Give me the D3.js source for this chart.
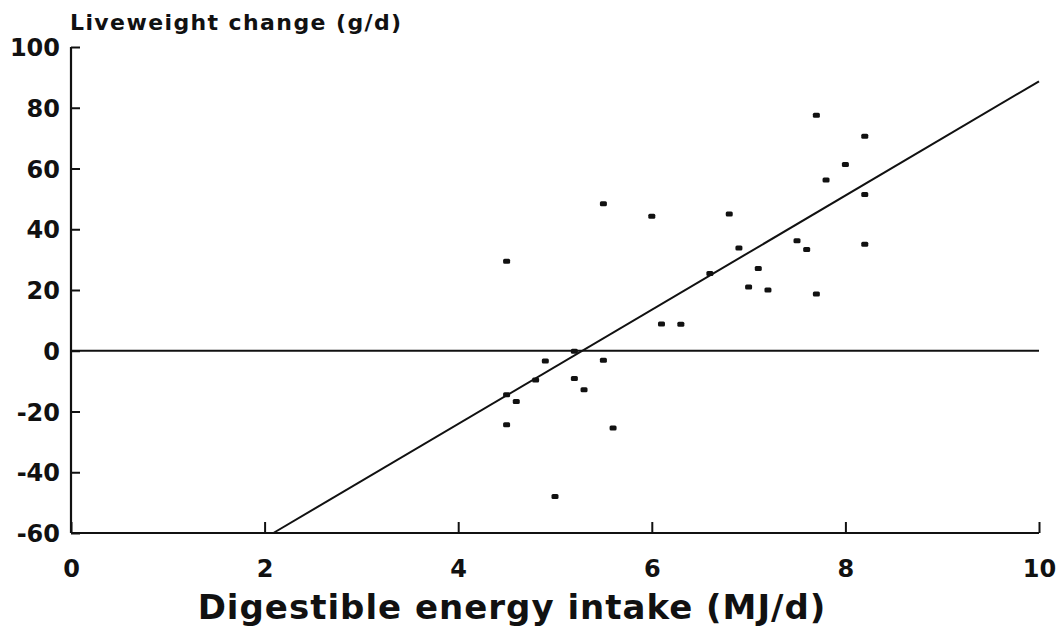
<!DOCTYPE html>
<html>
<head>
<meta charset="utf-8">
<script src="https://cdn.jsdelivr.net/npm/d3@7"></script>
<style>
  html, body { margin: 0; padding: 0; background: #fff; }
  svg { display: block; }
</style>
</head>
<body>
<svg id="chart" width="1059" height="629"></svg>
<script>
// Digestible energy intake (MJ/d) for each animal
const intake = [4.5, 5.5, 6.0, 6.8, 6.9, 6.6, 7.1, 7.0, 7.2, 6.1, 6.3,
                5.2, 4.9, 5.5, 4.8, 5.2, 4.5, 4.6, 5.3, 4.5, 5.6, 5.0,
                7.7, 8.2, 8.0, 7.8, 8.2, 7.5, 7.6, 8.2, 7.7];
// Liveweight change (g/d) for each animal
const gain = [29.5, 48.4, 44.3, 45.0, 33.8, 25.4, 27.1, 21.0, 20.0, 8.8, 8.7,
              -0.2, -3.4, -3.1, -9.6, -9.1, -14.5, -16.7, -12.8, -24.4, -25.4, -48.0,
              77.5, 70.6, 61.3, 56.2, 51.4, 36.2, 33.3, 35.1, 18.7];
// Fitted regression: gain = slope * intake + intercept
const fitSlope = 18.8;
const fitIntercept = -99.3;

const xTicks = [0, 2, 4, 6, 8, 10];
const yTicks = [-60, -40, -20, 0, 20, 40, 60, 80, 100];

const svg = d3.select("#chart");
const x = d3.scaleLinear().domain([0, 10]).range([71, 1039]);
const y = d3.scaleLinear().domain([-60, 100]).range([533, 47]);

const ink = "#111";
const font = "'DejaVu Sans', sans-serif";

// Left axis with inward ticks
const yAxis = svg.append("g").attr("transform", `translate(${x(0)},0)`)
  .call(d3.axisLeft(y).tickValues(yTicks).tickSize(-9).tickPadding(11).tickFormat(d => String(d)));
yAxis.select(".domain").remove();
yAxis.selectAll(".tick line").attr("stroke", ink).attr("stroke-width", 2);
yAxis.selectAll(".tick text")
  .attr("fill", ink)
  .style("font-family", font)
  .style("font-weight", "bold")
  .style("font-size", "24px")
  .attr("dy", "0.36em");
// vertical axis line
svg.append("line")
  .attr("x1", x(0)).attr("x2", x(0))
  .attr("y1", y(100)).attr("y2", y(-60))
  .attr("stroke", ink).attr("stroke-width", 2.2);

// Bottom axis with inward ticks
const xAxis = svg.append("g").attr("transform", `translate(0,${y(-60)})`)
  .call(d3.axisBottom(x).tickValues(xTicks).tickSize(-11).tickPadding(27).tickFormat(d3.format("d")));
xAxis.select(".domain").remove();
xAxis.selectAll(".tick line").attr("stroke", ink).attr("stroke-width", 2);
xAxis.selectAll(".tick text")
  .attr("fill", ink)
  .style("font-family", font)
  .style("font-weight", "bold")
  .style("font-size", "24px");
svg.append("line")
  .attr("x1", x(0)).attr("x2", x(10))
  .attr("y1", y(-60)).attr("y2", y(-60))
  .attr("stroke", ink).attr("stroke-width", 2.2);

// Zero reference line
svg.append("line")
  .attr("x1", x(0)).attr("x2", x(10))
  .attr("y1", y(0)).attr("y2", y(0))
  .attr("stroke", ink).attr("stroke-width", 2);

// Regression line, from the bottom of the frame to the right edge
const xStart = (-60 - fitIntercept) / fitSlope;
const fitLine = d3.line().x(d => x(d)).y(d => y(fitSlope * d + fitIntercept));
svg.append("path")
  .datum([xStart, 10])
  .attr("d", fitLine)
  .attr("fill", "none")
  .attr("stroke", ink)
  .attr("stroke-width", 2);

// Observations
svg.append("g").selectAll("rect")
  .data(intake.map((v, i) => ({ x: v, y: gain[i] })))
  .join("rect")
  .attr("x", d => x(d.x) - 3.5)
  .attr("y", d => y(d.y) - 2.5)
  .attr("width", 7)
  .attr("height", 5)
  .attr("rx", 1.5)
  .attr("fill", ink);

// Axis titles
svg.append("text")
  .attr("x", 70).attr("y", 30)
  .attr("fill", ink)
  .style("font-family", font)
  .style("font-weight", "bold")
  .style("font-size", "22px")
  .style("letter-spacing", "1.4px")
  .text("Liveweight change (g/d)");

svg.append("text")
  .attr("x", 512).attr("y", 619)
  .attr("text-anchor", "middle")
  .attr("fill", ink)
  .style("font-family", font)
  .style("font-weight", "bold")
  .style("font-size", "34px")
  .style("letter-spacing", "1px")
  .text("Digestible energy intake (MJ/d)");
</script>
</body>
</html>
